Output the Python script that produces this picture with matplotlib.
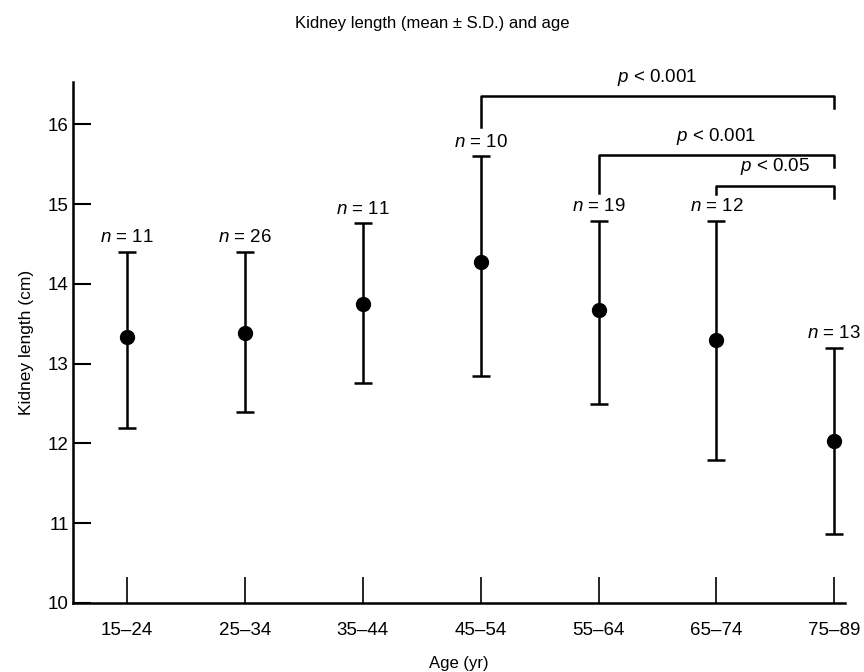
import matplotlib
matplotlib.use("Agg")
from matplotlib import pyplot as plt

plt.rcParams['font.family'] = ['Liberation Sans', 'DejaVu Sans']
plt.rcParams['mathtext.fontset'] = 'custom'
plt.rcParams['mathtext.rm'] = 'Liberation Sans'
plt.rcParams['mathtext.it'] = 'Liberation Sans:italic'

# data
age_groups = ['15\u201324', '25\u201334', '35\u201344', '45\u201354', '55\u201364', '65\u201374', '75\u201389']
mean_len = [13.33, 13.38, 13.75, 14.28, 13.67, 13.29, 12.03]
upper = [14.40, 14.40, 14.76, 15.60, 14.79, 14.79, 13.20]
lower = [12.19, 12.39, 12.76, 12.85, 12.49, 11.79, 10.86]
n_sizes = [11, 26, 11, 10, 19, 12, 13]

# significance brackets: (from group, to group, bar height, label)
brk_from = [3, 4, 5]
brk_to = [6, 6, 6]
brk_top = [16.35, 15.61, 15.23]
brk_leg_left = [15.96, 15.14, 15.13]
brk_leg_right = [16.20, 15.46, 15.08]
brk_label = ['$p$ < 0.001', '$p$ < 0.001', '$p$ < 0.05']

fig = plt.figure(figsize=(8.64, 6.72), dpi=100)
ax = fig.add_axes([0.0845, 0.1027, 0.8935, 0.7753])

x = list(range(len(age_groups)))
err_lo = [m - l for m, l in zip(mean_len, lower)]
err_hi = [u - m for m, u in zip(mean_len, upper)]
ax.errorbar(x, mean_len, yerr=[err_lo, err_hi], fmt='o', color='black',
            ms=10, elinewidth=1.8, capsize=6.5, capthick=1.8)

for i in x:
    ax.annotate('$n$ = ' + str(n_sizes[i]), (i, upper[i]), xytext=(0, 4),
                textcoords='offset points', ha='center', va='bottom', fontsize=13.5)

for a, b, top, hl, hr, lab in zip(brk_from, brk_to, brk_top, brk_leg_left, brk_leg_right, brk_label):
    ax.plot([a, a, b, b], [hl, top, top, hr], color='black', lw=1.8, clip_on=False)
    ax.annotate(lab, ((a + b) / 2, top), xytext=(0, 6), textcoords='offset points',
                ha='center', va='bottom', fontsize=13.5, annotation_clip=False)

ax.set_xlim(-0.458, 6.09)
ax.set_ylim(10, 16.53)
ax.set_xticks(x)
ax.set_xticklabels(age_groups, fontsize=13.5)
ax.set_yticks([10, 11, 12, 13, 14, 15, 16])
ax.tick_params(axis='y', direction='in', length=13, width=1.5, labelsize=13.5, pad=3)
ax.tick_params(axis='x', direction='in', length=19, width=1.2, labelsize=13.5, pad=14)
ax.spines['top'].set_visible(False)
ax.spines['right'].set_visible(False)
ax.spines['left'].set_linewidth(1.8)
ax.spines['bottom'].set_linewidth(1.8)

ax.set_xlabel('Age (yr)', fontsize=12, labelpad=12)
ax.set_ylabel('Kidney length (cm)', fontsize=12.5, labelpad=10)
fig.text(0.5, 0.965, 'Kidney length (mean \u00b1 S.D.) and age', ha='center', va='center', fontsize=12)

plt.savefig('out.png', dpi=100)
